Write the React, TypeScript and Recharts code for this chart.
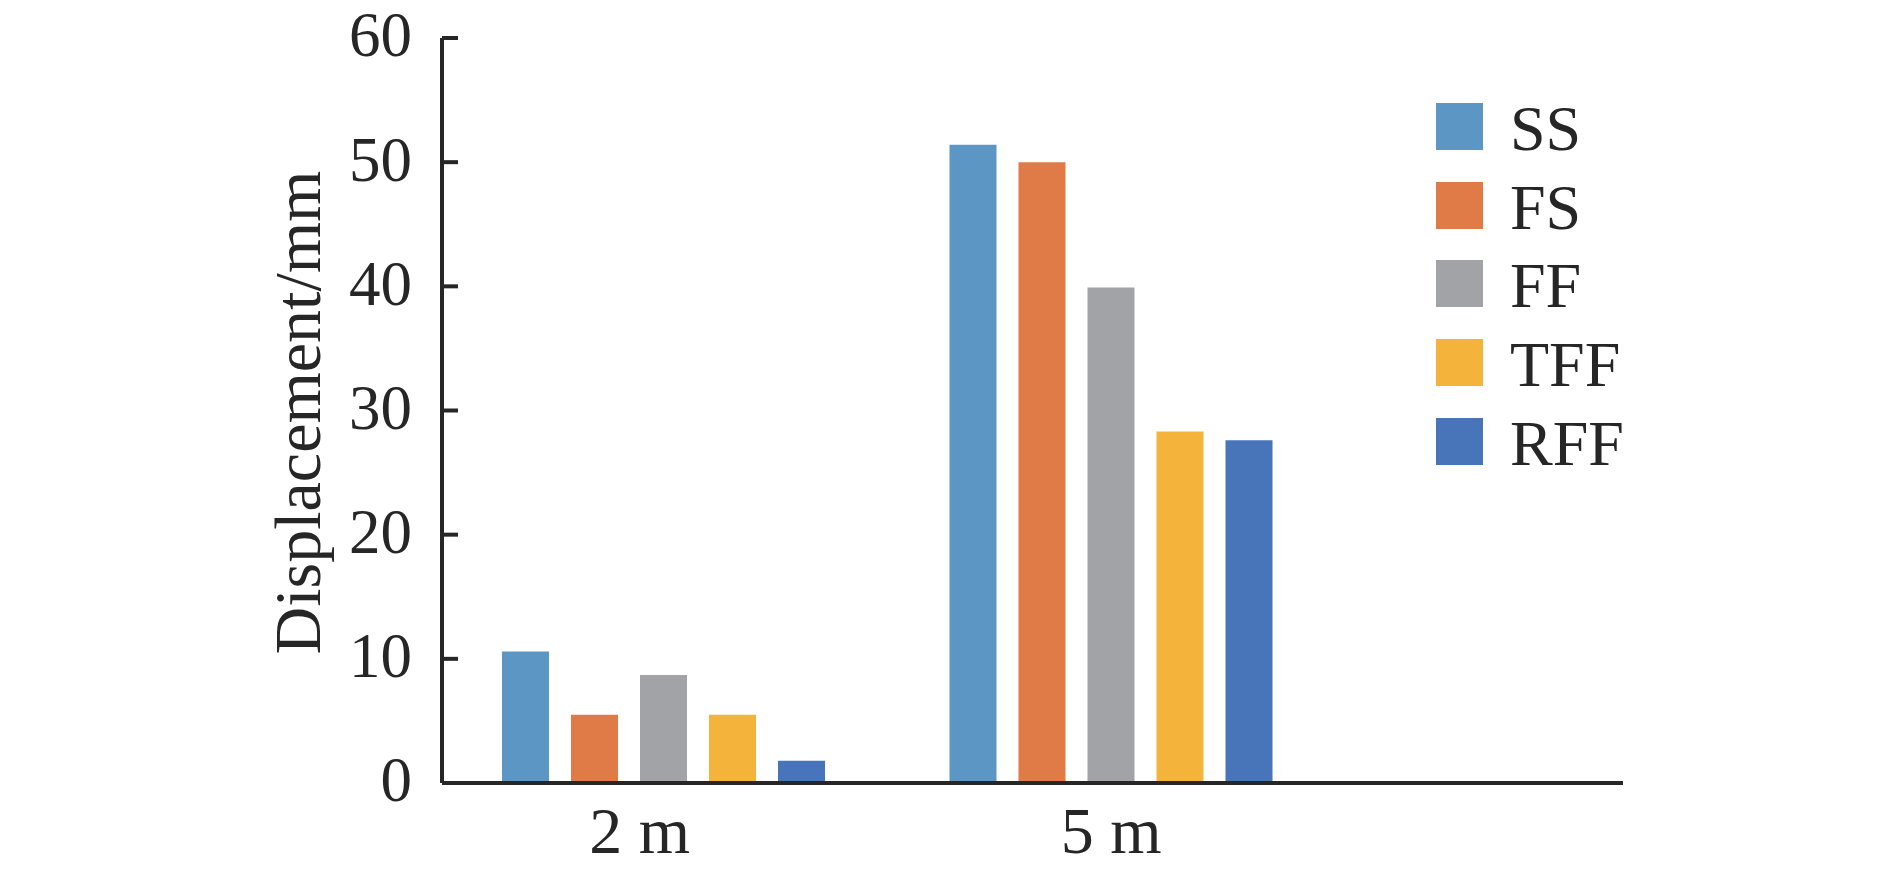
import React from "react";
import { BarChart, Bar, XAxis, YAxis, Legend } from "recharts";

const categories = ["2 m", "5 m"];
const ssValues = [10.6, 51.4];
const fsValues = [5.5, 50.0];
const ffValues = [8.7, 39.9];
const tffValues = [5.5, 28.3];
const rffValues = [1.8, 27.6];
const yTicks = [0, 10, 20, 30, 40, 50, 60];

const seriesNames = ["SS", "FS", "FF", "TFF", "RFF"];
const seriesColors = ["#5B96C5", "#E07B47", "#A2A3A6", "#F4B43C", "#4874B9"];

const data = categories.map((c, i) => ({
  name: c,
  SS: ssValues[i],
  FS: fsValues[i],
  FF: ffValues[i],
  TFF: tffValues[i],
  RFF: rffValues[i],
}));

const FONT = '"Liberation Serif", "Times New Roman", serif';
const INK = "#262626";

// first category label sits a little left of its bar group in the original
function XTick(props: any) {
  const { x, y, payload, index } = props;
  const shift = index === 0 ? -24 : 0;
  return (
    <text
      x={x + shift}
      y={y}
      dy="0.71em"
      textAnchor="middle"
      fontSize={66}
      fontFamily={FONT}
      fill={INK}
    >
      {payload.value}
    </text>
  );
}

// legend keeps series order (recharts would sort it by name)
function LegendBox() {
  return (
    <div style={{ fontFamily: FONT, fontSize: 64, color: INK }}>
      {seriesNames.map((name, i) => (
        <div
          key={name}
          style={{ display: "flex", alignItems: "flex-start", height: 47, marginBottom: 31.7 }}
        >
          <span style={{ width: 47, height: 47, background: seriesColors[i], display: "inline-block" }} />
          <span style={{ marginLeft: 27, lineHeight: "52px", height: 47 }}>{name}</span>
        </div>
      ))}
    </div>
  );
}

export default function App() {
  return (
    <div style={{ marginTop: -8, marginBottom: -8 }}>
      <BarChart
        width={1874}
        height={870}
        data={data}
        margin={{ top: 38, right: 259, left: 0, bottom: 0 }}
        barSize={47}
        barGap={22}
        style={{ fontFamily: FONT }}
      >
        <XAxis
          dataKey="name"
          height={87}
          padding={{ left: -2, right: 288 }}
          axisLine={{ stroke: INK, strokeWidth: 4 }}
          tickLine={false}
          tickSize={0}
          tickMargin={23}
          tick={<XTick />}
        />
        <YAxis
          type="number"
          domain={[0, 60]}
          ticks={yTicks}
          width={434}
          axisLine={{ stroke: INK, strokeWidth: 4 }}
          tickLine={{ stroke: INK, strokeWidth: 4 }}
          tickSize={-16}
          tickMargin={46}
          tick={{ fill: INK, fontSize: 63, fontFamily: FONT, dy: -4 }}
          label={{
            value: "Displacement/mm",
            angle: -90,
            position: "center",
            dx: 72,
            dy: 2,
            fill: INK,
            fontSize: 66,
            fontFamily: FONT,
          }}
        />
        <Legend
          layout="vertical"
          align="center"
          verticalAlign="middle"
          content={<LegendBox />}
          wrapperStyle={{ left: 1428, top: 103, width: 220 }}
        />
        {seriesNames.map((s, i) => (
          <Bar key={s} dataKey={s} fill={seriesColors[i]} isAnimationActive={false} />
        ))}
      </BarChart>
    </div>
  );
}
